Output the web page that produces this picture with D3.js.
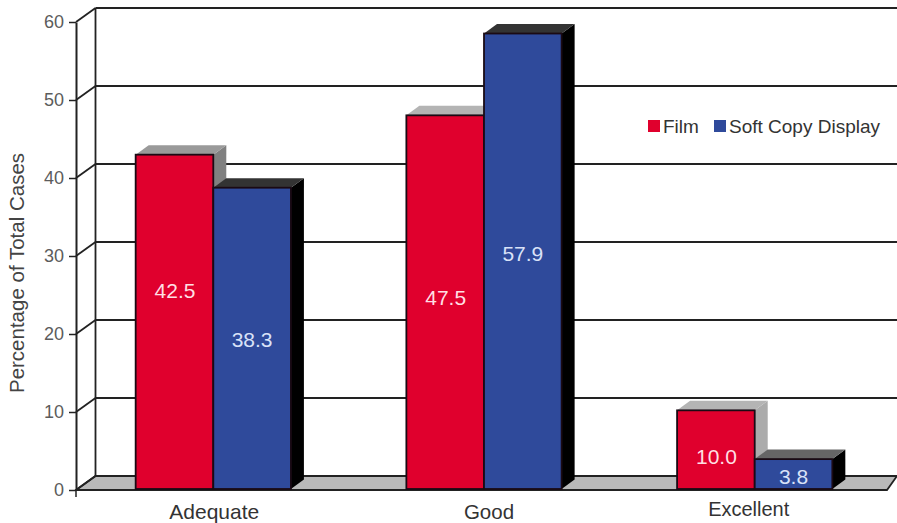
<!DOCTYPE html>
<html>
<head>
<meta charset="utf-8">
<script src="https://cdn.jsdelivr.net/npm/d3@7"></script>
<style>
html,body{margin:0;padding:0;background:#fff}
svg{display:block}
text{font-family:"Liberation Sans",Arial,sans-serif}
</style>
</head>
<body>
<svg id="chart" width="897" height="523"></svg>
<script>
// Chart values
const categories = ["Adequate", "Good", "Excellent"];
const seriesNames = ["Film", "Soft Copy Display"];
const film = [42.5, 47.5, 10.0];
const softCopy = [38.3, 57.9, 3.8];
const yTicks = [0, 10, 20, 30, 40, 50, 60];

// Styling
const seriesFill = ["#e0002d", "#2f4a9b"];
const labelFill = ["#ffdfe3", "#d9e2f8"];
const topShade = [["#9a9a9a", "#b4b4b4", "#b4b4b4"], ["#333333", "#333333", "#666666"]];
const sideShade = [["#808080", "#808080", "#ababab"], ["#000000", "#000000", "#000000"]];
const labelShift = [[-31, -5, 7], [1, -8, 2]];
const categoryShift = [[1, 0], [5, 0], [-6, -3]];
const categorySize = [21, 20.5, 20];

const svg = d3.select("#chart");
const wallDx = 19.5, wallDy = -14;
const barDx = 13, barDy = -9.5;
const left = 76, right = 887, base = 490;

const yAxisScale = d3.scaleLinear().domain([0, 60]).range([base, 22]);
const yBar = d3.scaleLinear().domain([0, 60]).range([489, 17]);
const x0 = d3.scaleBand().domain(categories).range([78, 890]).paddingInner(0.4265).paddingOuter(0.213);
const x1 = d3.scaleBand().domain(d3.range(seriesNames.length)).range([0, x0.bandwidth()]);

const poly = pts => pts.map(p => p.join(",")).join(" ");
const lineColor = "#222";

// Floor
svg.append("polygon")
  .attr("points", poly([[left, base], [left + wallDx, base + wallDy], [897, base + wallDy], [right, base]]))
  .attr("fill", "#b9b9b9").attr("stroke", lineColor).attr("stroke-width", 1.8);

// Back wall gridlines and the side-wall diagonals
const walls = svg.append("g").attr("fill", "none").attr("stroke", lineColor).attr("stroke-width", 1.8);
walls.selectAll("line.grid").data(yTicks).join("line").attr("class", "grid")
  .attr("x1", left + wallDx).attr("x2", 897)
  .attr("y1", d => yAxisScale(d) + wallDy).attr("y2", d => yAxisScale(d) + wallDy);
walls.selectAll("line.diag").data(yTicks).join("line").attr("class", "diag")
  .attr("x1", left).attr("x2", left + wallDx)
  .attr("y1", d => yAxisScale(d)).attr("y2", d => yAxisScale(d) + wallDy);
walls.append("line")
  .attr("x1", left + wallDx).attr("x2", left + wallDx)
  .attr("y1", yAxisScale(0) + wallDy).attr("y2", yAxisScale(60) + wallDy);

// Front value axis
const axis = svg.append("g").attr("transform", `translate(${left},0)`)
  .call(d3.axisLeft(yAxisScale).tickValues(yTicks).tickSize(7).tickPadding(5).tickSizeOuter(0));
axis.select(".domain").attr("stroke", lineColor).attr("stroke-width", 2);
axis.selectAll(".tick line").attr("stroke", lineColor).attr("stroke-width", 1.5);
axis.selectAll(".tick text").attr("font-size", 18).attr("font-family", '"Liberation Sans"').attr("fill", "#5c5c5c");
svg.append("line").attr("x1", left).attr("x2", left).attr("y1", base).attr("y2", base + 7)
  .attr("stroke", lineColor).attr("stroke-width", 1.5);
svg.append("line").attr("x1", left).attr("x2", right).attr("y1", base).attr("y2", base)
  .attr("stroke", lineColor).attr("stroke-width", 2);

svg.append("text")
  .attr("transform", "translate(24,273) rotate(-90)")
  .attr("text-anchor", "middle").attr("font-size", 20.5).attr("fill", "#444")
  .text("Percentage of Total Cases");

// 3D bars: side face, top face, front face
const seriesValues = [film, softCopy];
const bars = [];
categories.forEach((c, ci) => seriesValues.forEach((vals, si) => bars.push({c, ci, si, v: vals[ci]})));
// Soft copy bars of a group overlap the film side face, so film goes first
const barG = svg.selectAll("g.bar").data(bars).join("g").attr("class", "bar");
barG.each(function(d) {
  const g = d3.select(this);
  const xa = x0(d.c) + x1(d.si), xb = xa + x1.bandwidth();
  const yt = yBar(d.v), yb = yBar(0);
  g.append("polygon")
    .attr("points", poly([[xb, yb], [xb + barDx, yb + barDy], [xb + barDx, yt + barDy], [xb, yt]]))
    .attr("fill", sideShade[d.si][d.ci]);
  g.append("polygon")
    .attr("points", poly([[xa, yt], [xa + barDx, yt + barDy], [xb + barDx, yt + barDy], [xb, yt]]))
    .attr("fill", topShade[d.si][d.ci]);
  g.append("rect")
    .attr("x", xa).attr("y", yt).attr("width", x1.bandwidth()).attr("height", yb - yt)
    .attr("fill", seriesFill[d.si]).attr("stroke", "#1a0a14").attr("stroke-width", 1.8);
});

// Value labels inside the bars
svg.selectAll("text.value").data(bars).join("text").attr("class", "value")
  .attr("x", d => x0(d.c) + x1(d.si) + x1.bandwidth() / 2 + (d.si === 0 ? 0.5 : 0))
  .attr("y", d => (yBar(d.v) + yBar(0)) / 2 + labelShift[d.si][d.ci] + 7.5)
  .attr("text-anchor", "middle").attr("font-size", 21)
  .attr("fill", d => labelFill[d.si])
  .text(d => d.v.toFixed(1));

// Category labels
svg.selectAll("text.cat").data(categories).join("text").attr("class", "cat")
  .attr("x", (d, i) => x0(d) + x0.bandwidth() / 2 + categoryShift[i][0])
  .attr("y", (d, i) => 519 + categoryShift[i][1])
  .attr("text-anchor", "middle").attr("font-size", (d, i) => categorySize[i]).attr("fill", "#333")
  .text(d => d);

// Legend
const legendX = [648, 714];
const legend = svg.selectAll("g.legend").data(seriesNames).join("g").attr("class", "legend")
  .attr("transform", (d, i) => `translate(${legendX[i]},120)`);
legend.append("rect").attr("width", 12).attr("height", 12).attr("fill", (d, i) => seriesFill[i]);
legend.append("text").attr("x", 15).attr("y", 12.5).attr("font-size", 19).attr("fill", "#333").text(d => d);
</script>
</body>
</html>
